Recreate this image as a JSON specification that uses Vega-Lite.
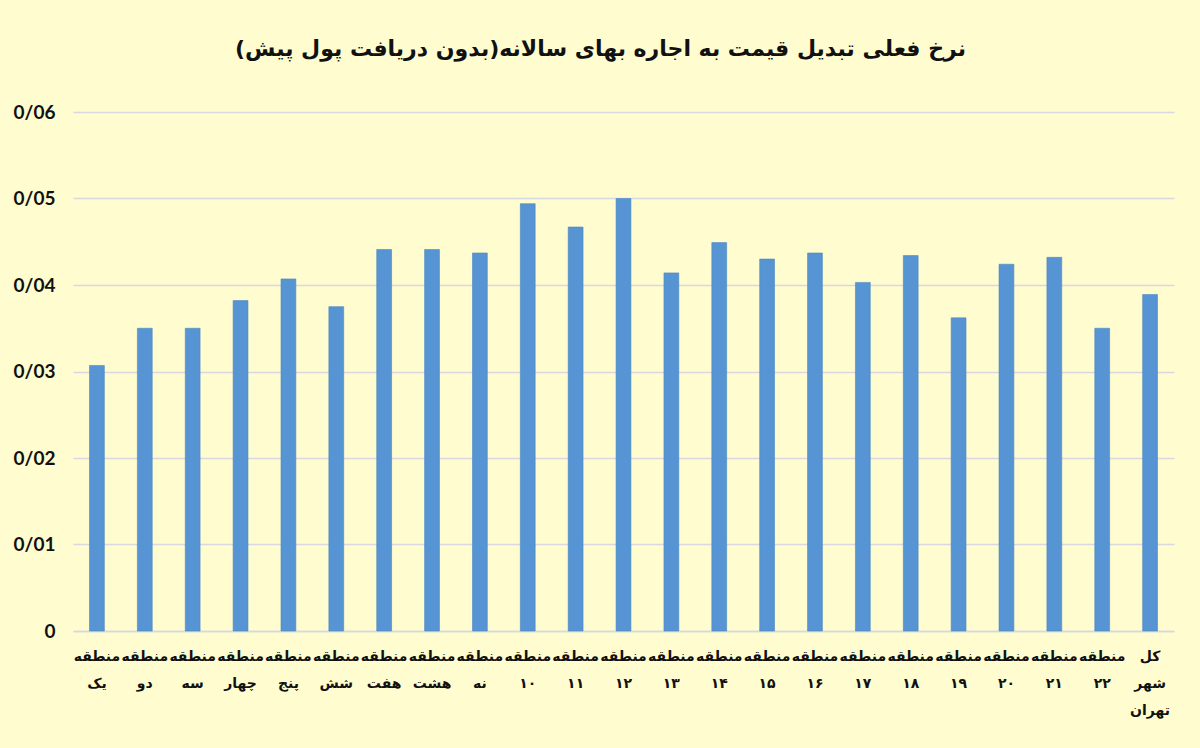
{
  "$schema": "https://vega.github.io/schema/vega-lite/v6.json",
  "autosize": {"type": "none"},
  "width": 1101,
  "height": 519,
  "padding": {"left": 73, "top": 112, "right": 26, "bottom": 117},
  "background": "#FFFDD0",
  "title": {
    "text": "نرخ فعلی تبدیل قیمت به اجاره بهای سالانه(بدون دریافت پول پیش)",
    "font": "DejaVu Sans",
    "fontSize": 22,
    "fontWeight": "bold",
    "color": "#111111",
    "anchor": "middle",
    "dx": -23,
    "offset": 42
  },
  "data": {
    "values": [
      {"region": "منطقه یک", "rate": 0.0307},
      {"region": "منطقه دو", "rate": 0.0350},
      {"region": "منطقه سه", "rate": 0.0350},
      {"region": "منطقه چهار", "rate": 0.0382},
      {"region": "منطقه پنج", "rate": 0.0407},
      {"region": "منطقه شش", "rate": 0.0375},
      {"region": "منطقه هفت", "rate": 0.0441},
      {"region": "منطقه هشت", "rate": 0.0441},
      {"region": "منطقه نه", "rate": 0.0437},
      {"region": "منطقه ۱۰", "rate": 0.0494},
      {"region": "منطقه ۱۱", "rate": 0.0467},
      {"region": "منطقه ۱۲", "rate": 0.0500},
      {"region": "منطقه ۱۳", "rate": 0.0414},
      {"region": "منطقه ۱۴", "rate": 0.0449},
      {"region": "منطقه ۱۵", "rate": 0.0430},
      {"region": "منطقه ۱۶", "rate": 0.0437},
      {"region": "منطقه ۱۷", "rate": 0.0403},
      {"region": "منطقه ۱۸", "rate": 0.0434},
      {"region": "منطقه ۱۹", "rate": 0.0362},
      {"region": "منطقه ۲۰", "rate": 0.0424},
      {"region": "منطقه ۲۱", "rate": 0.0432},
      {"region": "منطقه ۲۲", "rate": 0.0350},
      {"region": "کل شهر تهران", "rate": 0.0389}
    ]
  },
  "mark": {"type": "bar", "color": "#5694D4", "stroke": "#4B86C4", "strokeWidth": 0.6},
  "encoding": {
    "x": {
      "field": "region",
      "type": "nominal",
      "sort": null,
      "scale": {"paddingInner": 0.69, "paddingOuter": 0.345},
      "axis": {
        "title": null,
        "labelAngle": 0,
        "labelExpr": "split(datum.value, ' ')",
        "labelFont": "DejaVu Sans",
        "labelFontSize": 14,
        "labelFontWeight": "bold",
        "labelColor": "#111111",
        "labelLineHeight": 27,
        "labelPadding": 18,
        "labelBaseline": "top",
        "labelLimit": 200,
        "ticks": false,
        "domain": true,
        "domainColor": "#D8D8D8",
        "domainWidth": 1.5
      }
    },
    "y": {
      "field": "rate",
      "type": "quantitative",
      "scale": {"domain": [0, 0.06], "nice": false},
      "axis": {
        "title": null,
        "values": [0, 0.01, 0.02, 0.03, 0.04, 0.05, 0.06],
        "labelExpr": "datum.value == 0 ? '0' : replace(format(datum.value, '.2f'), '.', '/')",
        "labelFont": "Lato",
        "labelFontSize": 19,
        "labelFontWeight": "bold",
        "labelColor": "#111111",
        "labelPadding": 18,
        "ticks": false,
        "domain": false,
        "grid": true,
        "gridColor": "#D8D8E0",
        "gridWidth": 1.5
      }
    }
  },
  "config": {"view": {"stroke": null}}
}
